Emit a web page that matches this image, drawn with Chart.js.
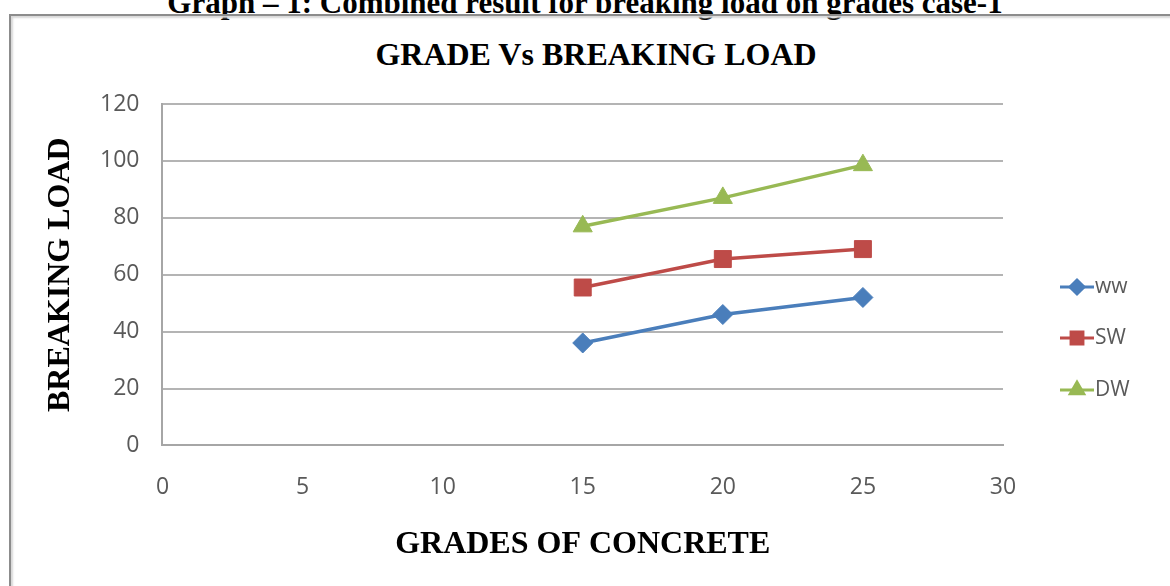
<!DOCTYPE html>
<html>
<head>
<meta charset="utf-8">
<script src="https://cdn.jsdelivr.net/npm/chart.js@4.4.1/dist/chart.umd.min.js"></script>
<style>
    html, body { margin: 0; padding: 0; background: #fff; overflow: hidden; }
    #page { position: relative; width: 1170px; height: 586px; }
    #caption {
        position: absolute; left: 0; width: 1170px; top: -15px;
        text-align: center; font: bold 31px "Liberation Serif", serif; color: #000;
        white-space: nowrap;
    }
    #frame {
        position: absolute; left: 9px; top: 14px; width: 1170px; height: 600px;
        border-left: 2px solid #8c8c8c; border-top: 2px solid #8c8c8c;
        box-shadow: inset 2px 2px 2px #d8d8d8;
    }
    #chartTitle {
        position: absolute; left: 296px; width: 600px; top: 38px;
        text-align: center; font: bold 32px/32px "Liberation Serif", serif; color: #000;
        white-space: nowrap;
    }
    #chartWrap { position: absolute; left: 0; top: 0; width: 1170px; height: 586px; }
</style>
</head>
<body>
<div id="page">
    <div id="caption">Graph – 1: Combined result for breaking load on grades case-1</div>
    <div id="frame"></div>
    <div id="chartTitle">GRADE Vs BREAKING LOAD</div>
    <div id="chartWrap"><canvas id="gradeChart" width="1170" height="586"></canvas></div>
</div>
<script>
// Grade vs breaking load
const grades = [15, 20, 25];
const wwLoad = [36, 46, 52];
const swLoad = [55.5, 65.5, 69];
const dwLoad = [77, 87, 98.5];
const seriesNames = ['ww', 'SW', 'DW'];
const xTicks = [0, 5, 10, 15, 20, 25, 30];
const yTicks = [0, 20, 40, 60, 80, 100, 120];

const titleFont = { family: '"Liberation Serif", serif', size: 32, weight: 'bold', lineHeight: 1.0 };
const tickFont = { family: '"Open Sans", sans-serif', size: 23 };

function makeSeries(label, values, color, marker, radius) {
    return {
        label: label,
        data: grades.map((g, i) => ({ x: g, y: values[i] })),
        borderColor: color,
        backgroundColor: color,
        borderWidth: 3.5,
        pointStyle: marker,
        pointRadius: radius,
        pointHoverRadius: radius,
        pointBorderWidth: 1,
        tension: 0,
        fill: false
    };
}

// simple legend: line with marker, then the name
const sideLegend = {
    id: 'sideLegend',
    afterDraw(chart) {
        const ctx = chart.ctx;
        const x0 = chart.chartArea.right + 57;
        const rowY = [287, 338, 390];
        ctx.save();
        chart.data.datasets.forEach((ds, i) => {
            const y = rowY[i];
            ctx.strokeStyle = ds.borderColor;
            ctx.lineWidth = 3;
            ctx.beginPath();
            ctx.moveTo(x0, y);
            ctx.lineTo(x0 + 34, y);
            ctx.stroke();
            Chart.helpers.drawPoint(ctx, {
                pointStyle: ds.pointStyle,
                radius: ds.pointRadius * 0.7,
                rotation: 0,
                borderWidth: 1
            }, x0 + 17, y);
            ctx.fillStyle = ds.borderColor;
            ctx.fill();
            ctx.fillStyle = '#595959';
            ctx.font = '21px "Open Sans", sans-serif';
            ctx.textBaseline = 'middle';
            ctx.textAlign = 'left';
            ctx.fillText(ds.label, x0 + 35, y);
        });
        ctx.restore();
    }
};

new Chart(document.getElementById('gradeChart'), {
    type: 'line',
    data: {
        datasets: [
            makeSeries(seriesNames[0], wwLoad, '#4A7EBB', 'rectRot', 10),
            makeSeries(seriesNames[1], swLoad, '#BE4B48', 'rect', 12),
            makeSeries(seriesNames[2], dwLoad, '#98B954', 'triangle', 11)
        ]
    },
    options: {
        responsive: false,
        animation: false,
        layout: {
            padding: { top: 104, left: 17, right: 167, bottom: 25 }
        },
        plugins: {
            legend: { display: false },
            tooltip: { enabled: false }
        },
        scales: {
            x: {
                type: 'linear',
                min: 0,
                max: 30,
                afterBuildTicks: (axis) => { axis.ticks = xTicks.map(v => ({ value: v })); },
                ticks: { color: '#595959', font: tickFont, padding: 28 },
                grid: { display: false, drawTicks: false },
                border: { display: true, color: '#a6a6a6', width: 2 },
                title: {
                    display: true,
                    text: 'GRADES OF CONCRETE',
                    color: '#000',
                    font: titleFont,
                    padding: { top: 0, bottom: 0 }
                }
            },
            y: {
                min: 0,
                max: 120,
                afterBuildTicks: (axis) => { axis.ticks = yTicks.map(v => ({ value: v })); },
                ticks: { color: '#595959', font: tickFont, padding: 23 },
                grid: { color: '#b4b4b4', lineWidth: 2, drawTicks: false },
                border: { display: true, color: '#a6a6a6', width: 2 },
                title: {
                    display: true,
                    text: 'BREAKING LOAD',
                    color: '#000',
                    font: titleFont,
                    padding: { top: 28, bottom: 0 }
                }
            }
        }
    },
    plugins: [sideLegend]
});
</script>
</body>
</html>
